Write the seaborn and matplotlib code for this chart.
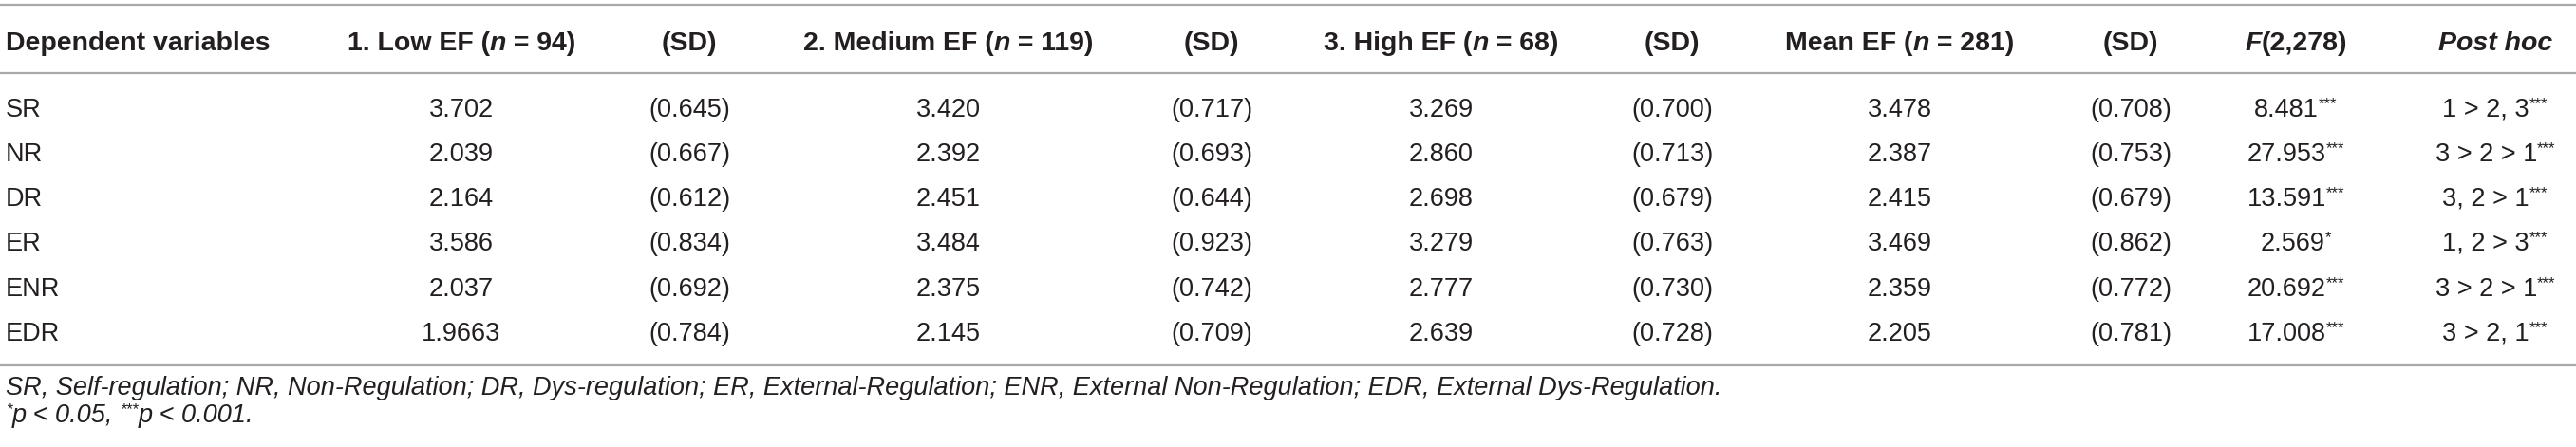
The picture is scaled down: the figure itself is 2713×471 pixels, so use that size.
import matplotlib
matplotlib.use("Agg")
import matplotlib.pyplot as plt
import seaborn as sns

# Table values
variables = ['SR', 'NR', 'DR', 'ER', 'ENR', 'EDR']
low_mean = ['3.702', '2.039', '2.164', '3.586', '2.037', '1.9663']
low_sd = ['0.645', '0.667', '0.612', '0.834', '0.692', '0.784']
med_mean = ['3.420', '2.392', '2.451', '3.484', '2.375', '2.145']
med_sd = ['0.717', '0.693', '0.644', '0.923', '0.742', '0.709']
high_mean = ['3.269', '2.860', '2.698', '3.279', '2.777', '2.639']
high_sd = ['0.700', '0.713', '0.679', '0.763', '0.730', '0.728']
all_mean = ['3.478', '2.387', '2.415', '3.469', '2.359', '2.205']
all_sd = ['0.708', '0.753', '0.679', '0.862', '0.772', '0.781']
f_vals = ['8.481', '27.953', '13.591', '2.569', '20.692', '17.008']
f_sig = ['***', '***', '***', '*', '***', '***']
post_hoc = ['1 > 2, 3', '3 > 2 > 1', '3, 2 > 1', '1, 2 > 3', '3 > 2 > 1', '3 > 2, 1']
post_sig = ['***', '***', '***', '***', '***', '***']
group_n = [94, 119, 68, 281]
group_names = ['1. Low EF', '2. Medium EF', '3. High EF', 'Mean EF']
footnote = ('SR, Self-regulation; NR, Non-Regulation; DR, Dys-regulation; ER, External-Regulation; '
            'ENR, External Non-Regulation; EDR, External Dys-Regulation.')

sns.set_theme(style='white')
plt.rcParams['font.family'] = ['Liberation Sans', 'DejaVu Sans']

W, H = 2713, 471
fig = plt.figure(figsize=(W / 100, H / 100), dpi=100)
ax = fig.add_axes([0, 0, 1, 1])
ax.set_xlim(0, W)
ax.set_ylim(H, 0)
ax.axis('off')
renderer = fig.canvas.get_renderer()

TEXT = '#231f20'
BODY = 19.5
HEAD = 20.5
FOOT = 19.5


def seg_width(s, **props):
    a = ax.text(0, 0, '|' + s + '|', **props)
    b = ax.text(0, 0, '||', **props)
    w = a.get_window_extent(renderer).width - b.get_window_extent(renderer).width
    a.remove()
    b.remove()
    return w


def rich(x, y, parts, ha='left', size=BODY, weight='normal'):
    # parts: (text, style, superscript?)
    specs = []
    for s, style, sup in parts:
        fs = size * 0.62 if sup else size
        props = dict(fontsize=fs, fontstyle=style, fontweight=weight, color=TEXT)
        specs.append((s, props, sup, seg_width(s, **props)))
    total = sum(sp[3] for sp in specs)
    cx = x - total / 2 if ha == 'center' else x
    px = size * 100 / 72
    base = y + 0.36 * px
    for s, props, sup, w in specs:
        dy = -0.33 * px if sup else 0
        ax.text(cx, base + dy, s, va='baseline', ha='left', **props)
        cx += w


# column positions
label_x = 6
mean_x = [486, 999, 1518, 2001]
sd_x = [726, 1276, 1761, 2244]
f_x = 2418
ph_x = 2628
head_y = 43
row_y = [113, 160, 207, 254, 302, 349]

# rules
for yy in [5, 77, 385]:
    ax.axhline(yy, color='#a9a9a9', lw=1.6)

# header
rich(label_x, head_y, [('Dependent variables', 'normal', False)], size=HEAD, weight='bold')
for name, n, mx, sx in zip(group_names, group_n, mean_x, sd_x):
    rich(mx, head_y, [(name + ' (', 'normal', False), ('n', 'italic', False),
                      (' = %d)' % n, 'normal', False)], ha='center', size=HEAD, weight='bold')
    rich(sx, head_y, [('(SD)', 'normal', False)], ha='center', size=HEAD, weight='bold')
rich(f_x, head_y, [('F', 'italic', False), ('(2,278)', 'normal', False)],
     ha='center', size=HEAD, weight='bold')
rich(ph_x, head_y, [('Post hoc', 'italic', False)], ha='center', size=HEAD, weight='bold')

# body rows
columns = [(low_mean, low_sd), (med_mean, med_sd), (high_mean, high_sd), (all_mean, all_sd)]
for i, y in enumerate(row_y):
    rich(label_x, y, [(variables[i], 'normal', False)])
    for (means, sds), mx, sx in zip(columns, mean_x, sd_x):
        rich(mx, y, [(means[i], 'normal', False)], ha='center')
        rich(sx, y, [('(' + sds[i] + ')', 'normal', False)], ha='center')
    rich(f_x, y, [(f_vals[i], 'normal', False), (f_sig[i], 'normal', True)], ha='center')
    rich(ph_x, y, [(post_hoc[i], 'normal', False), (post_sig[i], 'normal', True)], ha='center')

# footnotes
rich(label_x, 406, [(footnote, 'italic', False)], size=FOOT)
rich(label_x, 435, [('*', 'italic', True), ('p < 0.05, ', 'italic', False),
                    ('***', 'italic', True), ('p < 0.001.', 'italic', False)], size=FOOT)

fig.savefig('out.png', dpi=100, facecolor='white')
